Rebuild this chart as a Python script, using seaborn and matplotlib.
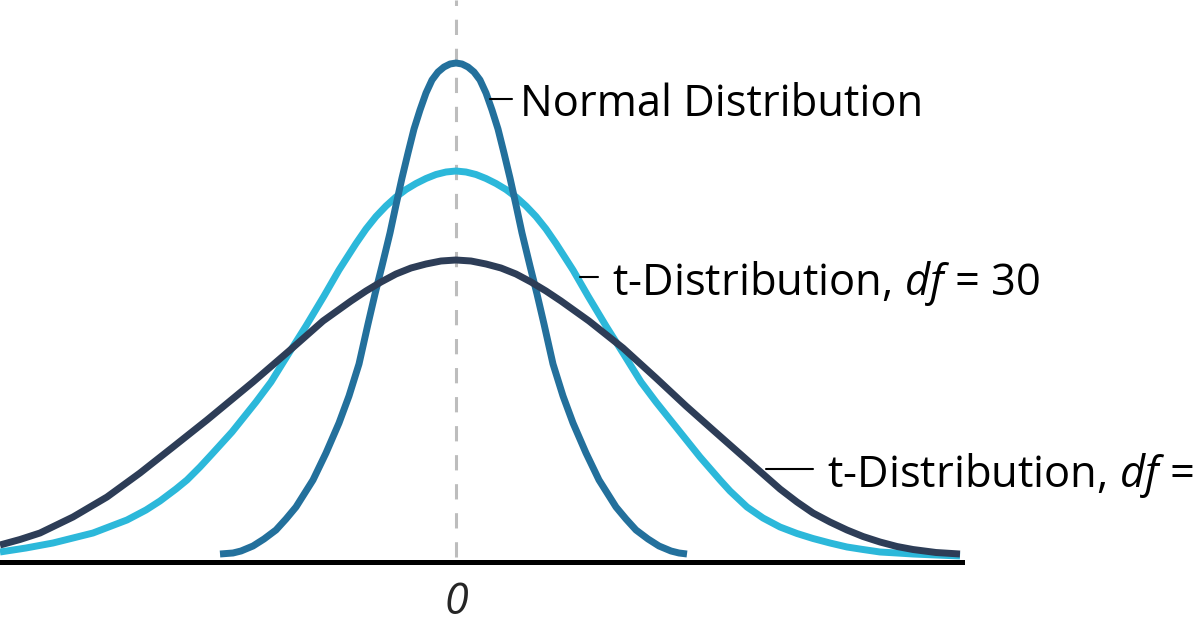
import matplotlib
matplotlib.use("Agg")
import matplotlib.pyplot as plt
import pandas as pd
import seaborn as sns

# values (x: centred on 0, y: curve height above the axis)
normal_x = [-2.36, -2.23, -2.15, -2.03, -1.92, -1.80, -1.70, -1.60, -1.43, -1.30,
            -1.17, -1.07, -0.97, -0.88, -0.81, -0.74, -0.66, -0.60, -0.54, -0.48,
            -0.42, -0.36, -0.30, -0.24, -0.18, -0.12, -0.06, 0.0, 0.06, 0.12,
            0.18, 0.24, 0.30, 0.36, 0.42, 0.48, 0.54, 0.60, 0.66, 0.74,
            0.81, 0.88, 0.97, 1.07, 1.17, 1.30, 1.43, 1.60, 1.70, 1.80,
            1.92, 2.03, 2.15, 2.23, 2.31]
normal_y = [0.08, 0.09, 0.11, 0.16, 0.23, 0.32, 0.43, 0.55, 0.82, 1.09,
            1.39, 1.66, 1.98, 2.38, 2.68, 2.96, 3.29, 3.57, 3.84, 4.09,
            4.33, 4.52, 4.69, 4.82, 4.90, 4.95, 4.98, 4.99, 4.98, 4.95,
            4.90, 4.82, 4.69, 4.52, 4.33, 4.09, 3.84, 3.57, 3.29, 2.96,
            2.68, 2.38, 1.98, 1.66, 1.39, 1.09, 0.82, 0.55, 0.43, 0.32,
            0.23, 0.16, 0.11, 0.09, 0.08]

t30_x = [-4.56, -4.30, -4.03, -3.63, -3.29, -3.10, -2.96, -2.80, -2.69, -2.56,
         -2.44, -2.24, -2.00, -1.85, -1.67, -1.50, -1.32, -1.17, -1.0, -0.9,
         -0.8, -0.7, -0.6, -0.5, -0.4, -0.3, -0.2, -0.1, 0.0, 0.1,
         0.2, 0.3, 0.4, 0.5, 0.6, 0.7, 0.8, 0.9, 1.0, 1.17,
         1.32, 1.50, 1.67, 1.85, 2.00, 2.24, 2.44, 2.64, 2.74, 2.91,
         3.07, 3.24, 3.41, 3.57, 3.74, 3.91, 4.07, 4.24, 4.41, 4.57,
         4.80, 5.04]
t30_y = [0.10, 0.14, 0.19, 0.29, 0.42, 0.52, 0.61, 0.73, 0.82, 0.95,
         1.08, 1.30, 1.60, 1.80, 2.09, 2.36, 2.66, 2.92, 3.185, 3.33,
         3.455, 3.56, 3.65, 3.725, 3.785, 3.835, 3.875, 3.90, 3.91, 3.90,
         3.875, 3.835, 3.785, 3.725, 3.65, 3.56, 3.455, 3.33, 3.185, 2.92,
         2.66, 2.36, 2.09, 1.80, 1.60, 1.30, 1.05, 0.82, 0.71, 0.55,
         0.44, 0.35, 0.285, 0.235, 0.19, 0.15, 0.125, 0.10, 0.09, 0.08,
         0.07, 0.06]

tlow_x = [-4.56, -4.36, -4.16, -3.83, -3.49, -3.16, -2.83, -2.49, -2.03, -1.67,
          -1.33, -1.05, -0.90, -0.75, -0.60, -0.45, -0.30, -0.15, 0.0, 0.15,
          0.30, 0.45, 0.60, 0.75, 0.90, 1.05, 1.33, 1.67, 2.00, 2.30,
          2.57, 2.91, 3.24, 3.41, 3.57, 3.74, 3.91, 4.07, 4.24, 4.41,
          4.57, 4.80, 5.04]
tlow_y = [0.17, 0.225, 0.29, 0.45, 0.65, 0.89, 1.15, 1.42, 1.80, 2.11,
          2.41, 2.61, 2.71, 2.80, 2.88, 2.94, 2.98, 3.01, 3.02, 3.01,
          2.98, 2.94, 2.88, 2.80, 2.71, 2.61, 2.41, 2.14, 1.84, 1.56,
          1.32, 1.02, 0.73, 0.60, 0.49, 0.40, 0.32, 0.255, 0.20, 0.155,
          0.125, 0.095, 0.08]

series_names = ["t30", "normal", "tlow"]
colors = {"normal": "#23709c", "t30": "#2cb8da", "tlow": "#2d3d57"}

df = pd.concat([
    pd.DataFrame({"x": normal_x, "y": normal_y, "curve": "normal"}),
    pd.DataFrame({"x": t30_x, "y": t30_y, "curve": "t30"}),
    pd.DataFrame({"x": tlow_x, "y": tlow_y, "curve": "tlow"}),
])

sns.set_style("white")
plt.rcParams["font.family"] = ["Open Sans", "DejaVu Sans"]
plt.rcParams["mathtext.fontset"] = "custom"
plt.rcParams["mathtext.it"] = "Open Sans:italic"
plt.rcParams["mathtext.rm"] = "Open Sans"

fig = plt.figure(figsize=(12, 6.3), dpi=100)
ax = fig.add_axes([0, 0, 1, 1])

ax.set_xlim(-4.56, 7.44)
ax.set_ylim(-0.68, 5.62)

ax.vlines(0, 0.05, 5.62, colors="#bdbdbd", linewidth=2.2,
          linestyles=(0, (5, 4.5)), zorder=1)

sns.lineplot(data=df, x="x", y="y", hue="curve", hue_order=series_names,
             palette=colors, linewidth=5, sort=False, legend=False,
             estimator=None, ax=ax, zorder=3)
for line in ax.get_lines():
    line.set_solid_capstyle("butt")
    line.set_solid_joinstyle("round")

for side in ["top", "left", "right"]:
    ax.spines[side].set_visible(False)
ax.spines["bottom"].set_position(("data", 0))
ax.spines["bottom"].set_bounds(df["x"].min() - 0.5, df["x"].max() + 0.02)
ax.spines["bottom"].set_linewidth(3.6)
ax.spines["bottom"].set_color("black")
ax.spines["bottom"].set_zorder(2)

ax.set_xticks([0])
ax.set_xticklabels(["0"], fontstyle="italic", fontsize=31)
ax.tick_params(axis="x", length=0, pad=13)
ax.set_yticks([])
ax.set_xlabel("")
ax.set_ylabel("")

labels = [
    ("Normal Distribution", (0.34, 0.56, 0.64), 4.63),
    ("t-Distribution, $df$ = 30", (1.24, 1.42, 1.56), 2.85),
    ("t-Distribution, $df$ =", (3.10, 3.57, 3.71), 0.93),
]
for text, (x_curve, x_end, x_text), y in labels:
    ax.annotate("", xy=(x_curve, y), xytext=(x_end, y),
                arrowprops=dict(arrowstyle="-", lw=1.5, color="black",
                                shrinkA=0, shrinkB=0))
    ax.text(x_text, y, text, fontsize=31.3, va="center_baseline", ha="left",
            color="black")

fig.savefig("out.png", dpi=100)
plt.close(fig)
